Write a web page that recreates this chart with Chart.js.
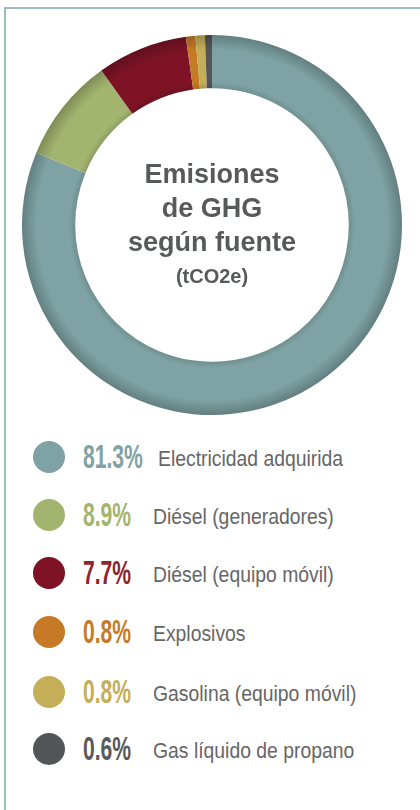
<!DOCTYPE html>
<html>
<head>
<meta charset="utf-8">
<script src="https://cdn.jsdelivr.net/npm/chart.js@4.4.1/dist/chart.umd.min.js"></script>
<style>
  html, body { margin: 0; padding: 0; background: #fff; }
  body { width: 420px; height: 810px; position: relative; overflow: hidden; }
  .card {
    position: absolute; left: 4px; top: 7px; width: 430px; height: 820px;
    border-top: 2px solid #9dbcbc; border-left: 2px solid #9dbcbc;
  }
  #chart-box { position: absolute; left: 22px; top: 35px; width: 380px; height: 380px; }
  .center-text {
    position: absolute; left: 62px; top: 157px; width: 300px; text-align: center;
    font-family: "Liberation Sans", Arial, sans-serif; font-weight: bold; color: #58595b;
  }
  .center-text .big { font-size: 27px; line-height: 34px; }
  .center-text .unit { font-size: 20px; line-height: 34px; }
  .legend-row { position: absolute; left: 0; width: 420px; height: 40px; }
  .dot { position: absolute; left: 33px; top: 4px; width: 32px; height: 32px; border-radius: 50%; }
  .pct {
    position: absolute; left: 83px; top: 0; line-height: 40px;
    font-family: "Liberation Sans", Arial, sans-serif; font-weight: bold; font-size: 33px;
    transform: scaleX(0.64); transform-origin: left center; white-space: nowrap;
  }
  .lab {
    position: absolute; left: 153px; top: 2px; line-height: 40px;
    font-family: "Liberation Sans", Arial, sans-serif; font-size: 22px; color: #666;
    transform: scaleX(0.88); transform-origin: left center; white-space: nowrap;
  }
</style>
</head>
<body>
<div class="card"></div>
<div id="chart-box"><canvas id="ghgChart"></canvas></div>
<div class="center-text">
  <div class="big">Emisiones</div>
  <div class="big">de GHG</div>
  <div class="big">según fuente</div>
  <div class="unit">(tCO2e)</div>
</div>
<div id="legend"></div>
<script>
const sources = ['Electricidad adquirida', 'Diésel (generadores)', 'Diésel (equipo móvil)', 'Explosivos', 'Gasolina (equipo móvil)', 'Gas líquido de propano'];
const shares = [81.3, 8.9, 7.7, 0.8, 0.8, 0.6];
const sliceColors = ['#7fa3a4', '#a3b46f', '#7d1325', '#c67a26', '#c4ae58', '#545558'];
const pctColors = ['#7fa3a4', '#a3b46f', '#8b2530', '#c67a26', '#c4ae58', '#58595b'];

const rowTops = [457, 515, 573, 632, 692, 749];

// legend built from the same arrays
const legend = document.getElementById('legend');
sources.forEach((name, i) => {
  const row = document.createElement('div');
  row.className = 'legend-row';
  row.style.top = (rowTops[i] - 20) + 'px';
  const labLeft = shares[i] >= 10 ? 158 : 153;
  row.innerHTML = '<div class="dot" style="background:' + sliceColors[i] + '"></div>' +
    '<div class="pct" style="color:' + pctColors[i] + '">' + shares[i].toFixed(1) + '%</div>' +
    '<div class="lab" style="left:' + labLeft + 'px">' + name + '</div>';
  legend.appendChild(row);
});

function shade(hex, f) {
  const n = parseInt(hex.slice(1), 16);
  const r = Math.round(((n >> 16) & 255) * f);
  const g = Math.round(((n >> 8) & 255) * f);
  const b = Math.round((n & 255) * f);
  return 'rgb(' + r + ',' + g + ',' + b + ')';
}

const cutoutPct = 0.72;
const gradCache = {};
function ringFill(context) {
  const chart = context.chart;
  const area = chart.chartArea;
  const base = sliceColors[context.dataIndex];
  if (!area) return base;
  const key = base + area.width + 'x' + area.height;
  if (gradCache[key]) return gradCache[key];
  const cx = (area.left + area.right) / 2;
  const cy = (area.top + area.bottom) / 2;
  const R = Math.min(area.width, area.height) / 2;
  const r = R * cutoutPct;
  const g = chart.ctx.createRadialGradient(cx, cy, r, cx, cy, R);
  g.addColorStop(0, shade(base, 0.88));
  g.addColorStop(0.12, base);
  g.addColorStop(0.72, base);
  g.addColorStop(1, shade(base, 0.78));
  gradCache[key] = g;
  return g;
}

new Chart(document.getElementById('ghgChart'), {
  type: 'doughnut',
  data: {
    labels: sources,
    datasets: [{
      data: shares,
      backgroundColor: ringFill,
      borderWidth: 0
    }]
  },
  options: {
    responsive: true,
    maintainAspectRatio: false,
    animation: false,
    cutout: (cutoutPct * 100) + '%',
    layout: { padding: 0 },
    plugins: {
      legend: { display: false },
      tooltip: { enabled: false }
    }
  }
});
</script>
</body>
</html>
